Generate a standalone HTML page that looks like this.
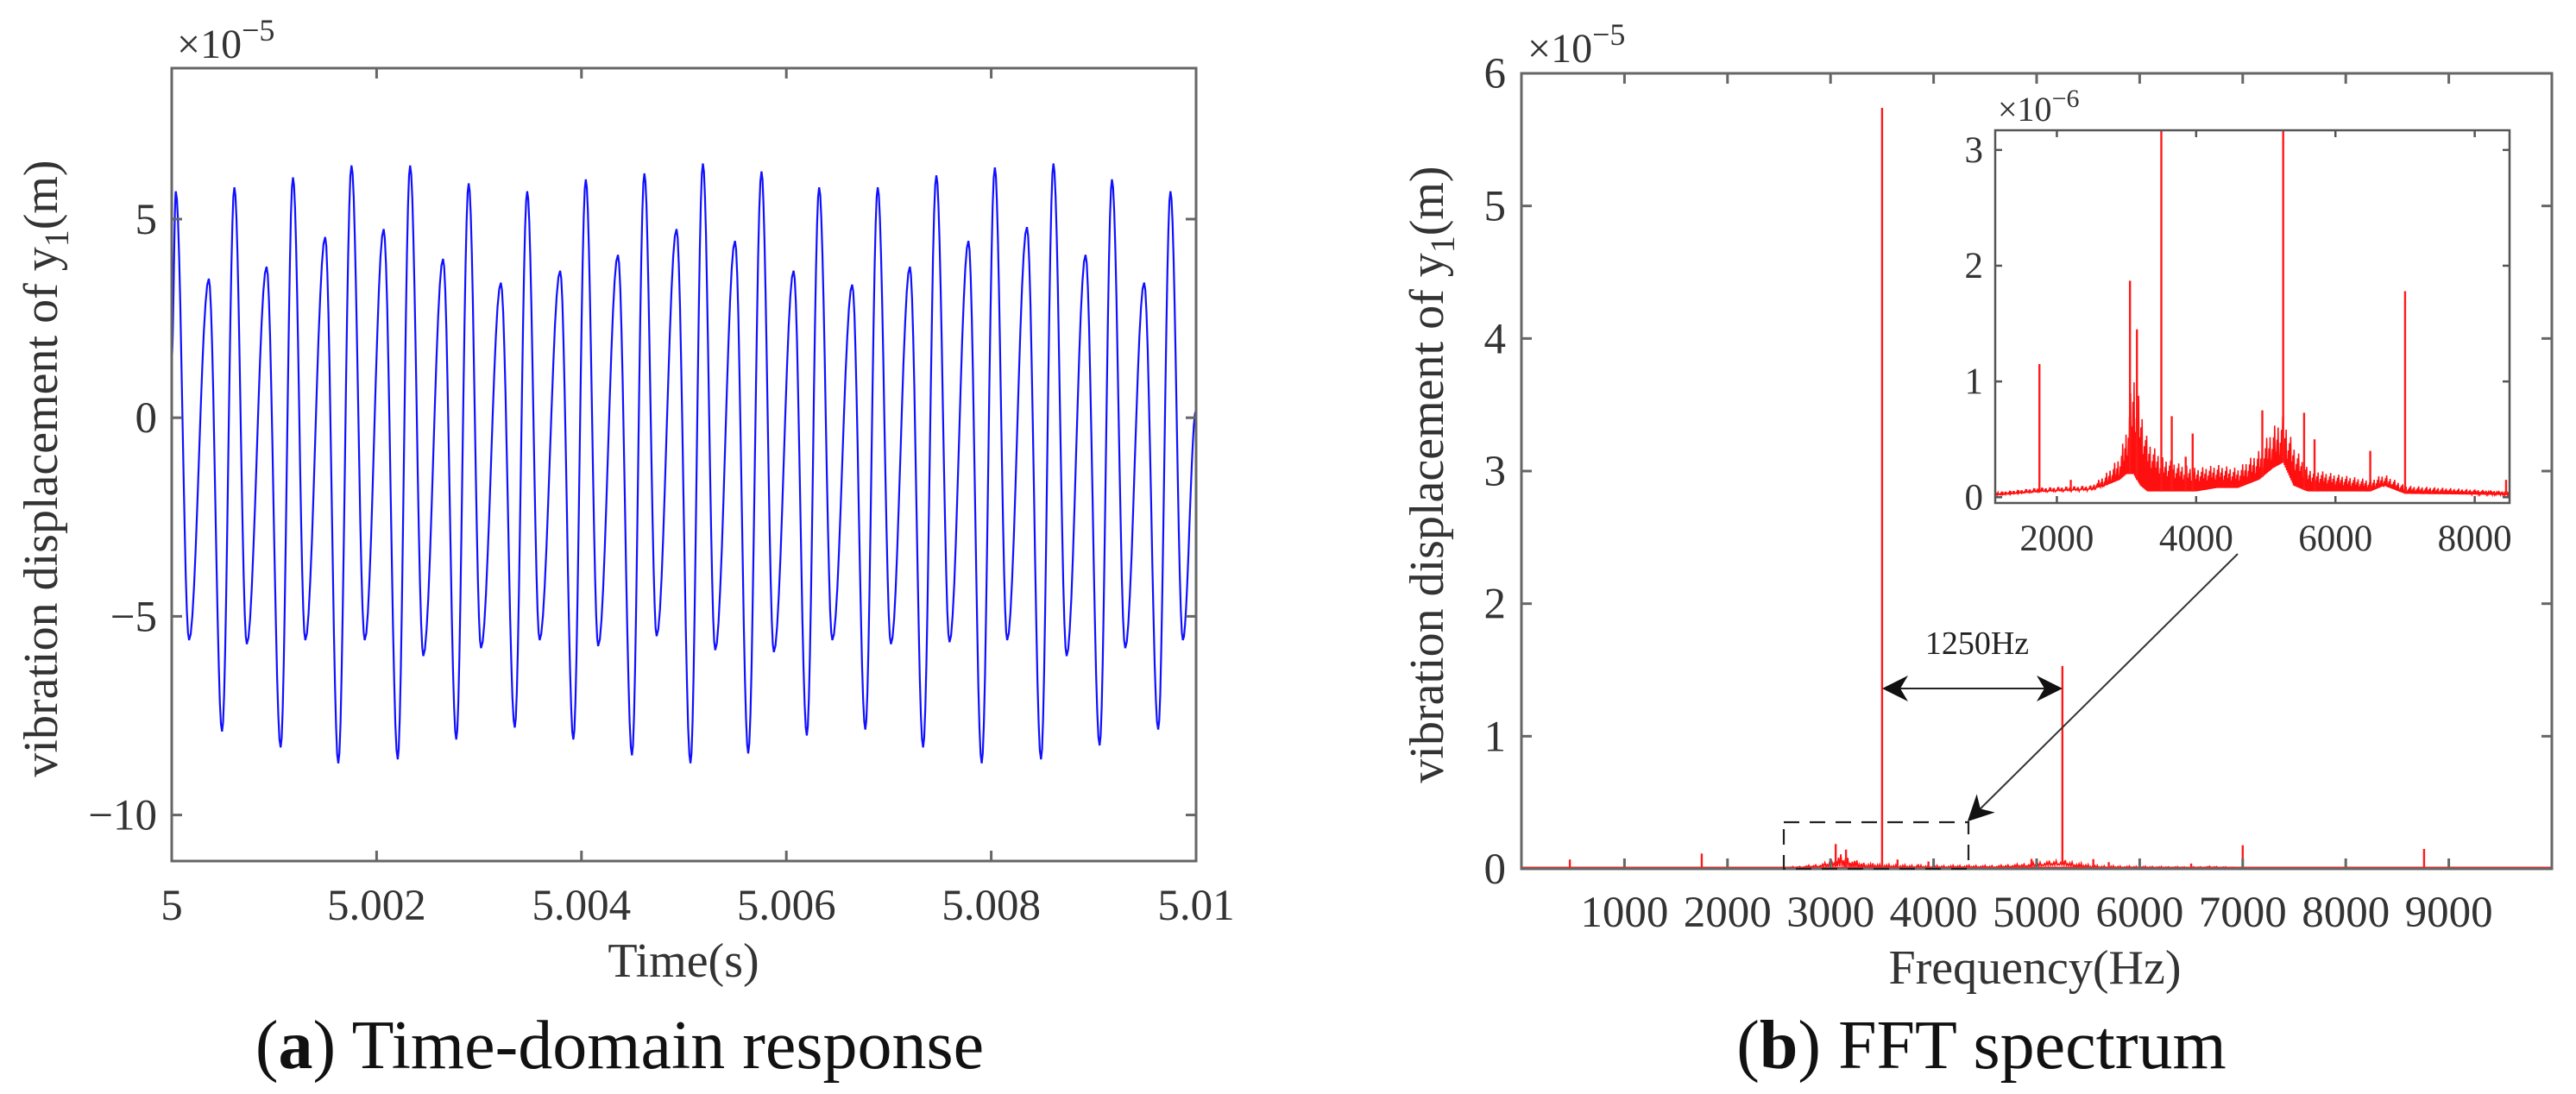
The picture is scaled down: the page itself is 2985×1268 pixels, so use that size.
<!DOCTYPE html>
<html><head><meta charset="utf-8"><style>
html,body{margin:0;padding:0;background:#fff;}
svg{display:block;font-family:"Liberation Serif",serif;}
</style></head><body>
<svg id="fig" width="2985" height="1268" viewBox="0 0 2985 1268" xmlns="http://www.w3.org/2000/svg">
<g id="left"></g>
<g id="right"></g>
<g id="inset"></g>
<text x="718" y="1238" font-size="80" text-anchor="middle" fill="#111">(<tspan font-weight="bold">a</tspan>) Time-domain response</text>
<text x="2296" y="1238" font-size="80" text-anchor="middle" fill="#111">(<tspan font-weight="bold">b</tspan>) FFT spectrum</text>
</svg>
<script>
// ---- time-domain data (ms offset from 5 s, value ×1e-5) ----
const tdTimes = [0,0.040,0.169,0.362,0.491,0.612,0.733,0.926,1.063,1.184,1.304,1.498,1.626,1.755,1.884,2.069,2.206,2.327,2.456,2.649,2.778,2.899,3.019,3.213,3.349,3.470,3.591,3.792,3.921,4.042,4.163,4.356,4.493,4.614,4.734,4.928,5.064,5.185,5.306,5.499,5.628,5.757,5.878,6.071,6.200,6.320,6.449,6.643,6.771,6.892,7.021,7.206,7.335,7.464,7.593,7.778,7.907,8.035,8.156,8.349,8.486,8.607,8.736,8.921,9.058,9.179,9.308,9.493,9.630,9.750,9.871,10.0];
const tdValues = [1.5,5.7,-5.6,3.5,-7.9,5.8,-5.7,3.8,-8.3,6.05,-5.6,4.55,-8.7,6.35,-5.6,4.75,-8.6,6.35,-6.0,4.0,-8.1,5.9,-5.8,3.4,-7.8,5.7,-5.6,3.7,-8.1,6.0,-5.75,4.1,-8.5,6.15,-5.5,4.75,-8.7,6.4,-5.85,4.45,-8.45,6.2,-5.9,3.7,-8.0,5.8,-5.6,3.35,-7.85,5.8,-5.7,3.8,-8.3,6.1,-5.65,4.45,-8.7,6.3,-5.6,4.8,-8.6,6.4,-6.0,4.1,-8.25,6.0,-5.8,3.4,-7.85,5.7,-5.6,0.2];
const tdXTicks = [5,5.002,5.004,5.006,5.008,5.01];
const tdXTickLabels = ["5","5.002","5.004","5.006","5.008","5.01"];
const tdYTicks = [5,0,-5,-10];
const tdYTickLabels = ["5","0","\u22125","\u221210"];

// ---- FFT data (Hz, amplitude ×1e-6) ----
const peakFreqs = [470,1750,2200,3050,3150,3500,3650,3850,3950,4950,5250,5550,5700,6500,7000,8450,8760];
const peakAmps  = [0.7,1.15,0.15,1.87,1.45,57.4,0.7,0.35,0.55,0.75,15.3,0.73,0.5,0.4,1.78,0.15,1.5];
const noiseFreqs = [0,1115,1750,2500,2700,2900,3000,3100,3200,3300,3500,3700,4000,4300,4600,4900,5100,5250,5400,5600,6000,6500,6700,7000,8500,10000];
const noiseLow   = [0.02,0.02,0.05,0.07,0.1,0.15,0.2,0.2,0.1,0.05,0.05,0.05,0.05,0.08,0.08,0.15,0.25,0.3,0.1,0.05,0.05,0.05,0.1,0.03,0.02,0.02];
const noiseHigh  = [0.04,0.04,0.08,0.1,0.2,0.35,0.6,1.1,0.8,0.5,0.35,0.3,0.25,0.28,0.25,0.4,0.6,0.7,0.45,0.25,0.2,0.15,0.2,0.1,0.05,0.05];
const fftXTicks = [1000,2000,3000,4000,5000,6000,7000,8000,9000];
const fftYTicks = [0,1,2,3,4,5,6];
const insetXTicks = [2000,4000,6000,8000];
const insetYTicks = [0,1,2,3];

const NS="http://www.w3.org/2000/svg";
function mk(parent,tag,attrs){const e=document.createElementNS(NS,tag);for(const k in attrs)e.setAttribute(k,attrs[k]);parent.appendChild(e);return e;}
function lin(d0,d1,r0,r1){return v=>r0+(v-d0)*(r1-r0)/(d1-d0);}
function interpEnv(f,arr){for(let i=0;i<noiseFreqs.length-1;i++){if(f>=noiseFreqs[i]&&f<=noiseFreqs[i+1]){const t=(f-noiseFreqs[i])/(noiseFreqs[i+1]-noiseFreqs[i]);return arr[i]+t*(arr[i+1]-arr[i]);}}return arr[arr.length-1];}

// ===== Left chart =====
(function(){
const g=document.getElementById('left');
const L=199,R=1386,T=79,B=998;
const x=lin(5,5.01,L,R), y=lin(-11.16,8.8,B,T);
let d="";
for(let i=0;i<tdTimes.length-1;i++){
  const t0=tdTimes[i],t1=tdTimes[i+1],v0=tdValues[i],v1=tdValues[i+1];
  for(let k=0;k<=12;k++){const s=k/12;const tt=t0+(t1-t0)*s;const vv=v0+(v1-v0)*(1-Math.cos(Math.PI*s))/2;
    d+=(d?"L":"M")+x(5+tt/1000).toFixed(1)+","+y(vv).toFixed(1);}
}
const p=mk(g,'path',{d:d,fill:'none',stroke:'#1010ff','stroke-width':2.2});


const box=mk(g,'rect',{x:L,y:T,width:R-L,height:B-T,fill:'none',stroke:'#666','stroke-width':3});


tdXTicks.forEach((v,i)=>{const xx=x(v);
  mk(g,'line',{x1:xx,x2:xx,y1:B,y2:B-12,stroke:'#666','stroke-width':3});
  mk(g,'line',{x1:xx,x2:xx,y1:T,y2:T+12,stroke:'#666','stroke-width':3});
  const t=mk(g,'text',{x:xx,y:1066,'font-size':51,'text-anchor':'middle',fill:'#333'});t.textContent=tdXTickLabels[i];
  
  
});
tdYTicks.forEach((v,i)=>{const yy=y(v);
  mk(g,'line',{x1:L,x2:L+12,y1:yy,y2:yy,stroke:'#666','stroke-width':3});
  mk(g,'line',{x1:R,x2:R-12,y1:yy,y2:yy,stroke:'#666','stroke-width':3});
  const t=mk(g,'text',{x:182,y:yy+17,'font-size':51,'text-anchor':'end',fill:'#333'});t.textContent=tdYTickLabels[i];
  
  
});
const xl=mk(g,'text',{x:792,y:1132,'font-size':56,'text-anchor':'middle',fill:'#333'});xl.textContent="Time(s)";


const yl=mk(g,'text',{x:0,y:0,'font-size':56,'text-anchor':'middle',fill:'#333',transform:'translate(66,543) rotate(-90)'});
yl.innerHTML='vibration displacement of y<tspan font-size="40" dy="13">1</tspan><tspan dy="-13">(m)</tspan>';


const ex=mk(g,'text',{x:205,y:67,'font-size':48,fill:'#333'});
ex.innerHTML='\u00d710<tspan font-size="36" dy="-20">\u22125</tspan>';


})();

function drawSpectrum(g,x,y,f0,f1,scale,clipTop){
  let d="";const step=(f1-f0)/900;let k=0;
  for(let f=f0;f<=f1;f+=step,k++){
    const v=(k%2?interpEnv(f,noiseHigh)*(0.55+0.45*((k%7)/6)):interpEnv(f,noiseLow))*scale;
    d+=(d?"L":"M")+x(f).toFixed(1)+","+Math.max(clipTop,y(v)).toFixed(1);
  }
  const n=mk(g,'path',{d:d,fill:'none',stroke:'#ff1010','stroke-width':1.6});
  
  
  peakFreqs.forEach((f,i)=>{ if(f<f0||f>f1) return;
    const l=mk(g,'line',{x1:x(f),x2:x(f),y1:y(interpEnv(f,noiseLow)*scale),y2:Math.max(clipTop,y(peakAmps[i]*scale)),stroke:'#ff1a1a','stroke-width':2.4});
    
    
  });
}
(function(){
const g=document.getElementById('right');
const L=1763,R=2957,T=85,B=1007;
const x=lin(0,10000,L,R), y=lin(0,6,B,T);
drawSpectrum(g,x,y,0,10000,0.1,T);
const bl=mk(g,'line',{x1:L,x2:R,y1:B-1,y2:B-1,stroke:'#ff2020','stroke-width':3});


const box=mk(g,'rect',{x:L,y:T,width:R-L,height:B-T,fill:'none',stroke:'#666','stroke-width':3});


fftXTicks.forEach(v=>{const xx=x(v);
  mk(g,'line',{x1:xx,x2:xx,y1:B,y2:B-12,stroke:'#666','stroke-width':3});
  mk(g,'line',{x1:xx,x2:xx,y1:T,y2:T+12,stroke:'#666','stroke-width':3});
  const t=mk(g,'text',{x:xx,y:1074,'font-size':51,'text-anchor':'middle',fill:'#333'});t.textContent=String(v);
  
  
});
fftYTicks.forEach(v=>{const yy=y(v);
  mk(g,'line',{x1:L,x2:L+12,y1:yy,y2:yy,stroke:'#666','stroke-width':3});
  mk(g,'line',{x1:R,x2:R-12,y1:yy,y2:yy,stroke:'#666','stroke-width':3});
  const t=mk(g,'text',{x:1745,y:yy+17,'font-size':51,'text-anchor':'end',fill:'#333'});t.textContent=String(v);
  
  
});
const xl=mk(g,'text',{x:2358,y:1140,'font-size':56,'text-anchor':'middle',fill:'#333'});xl.textContent="Frequency(Hz)";


const yl=mk(g,'text',{x:0,y:0,'font-size':56,'text-anchor':'middle',fill:'#333',transform:'translate(1672,550) rotate(-90)'});
yl.innerHTML='vibration displacement of y<tspan font-size="40" dy="13">1</tspan><tspan dy="-13">(m)</tspan>';


const ex=mk(g,'text',{x:1770,y:72,'font-size':48,fill:'#333'});
ex.innerHTML='\u00d710<tspan font-size="36" dy="-20">\u22125</tspan>';


const db=mk(g,'rect',{x:2067,y:953,width:214,height:54,fill:'none',stroke:'#222','stroke-width':2.2,'stroke-dasharray':'18,12'});


const defs=mk(g,'defs',{});
const m=mk(defs,'marker',{id:'ah',refX:9,refY:5,orient:'auto-start-reverse',markerUnits:'userSpaceOnUse',viewBox:'0 0 10 10'});
m.setAttribute('markerWidth',36);m.setAttribute('markerHeight',30);
mk(m,'path',{d:'M0,0 L10,5 L0,10 L3,5 Z',fill:'#111'});
const a1=mk(g,'line',{x1:2184,y1:798,x2:2387,y2:798,stroke:'#222','stroke-width':2,'marker-start':'url(#ah)','marker-end':'url(#ah)'});


const tx=mk(g,'text',{x:2291,y:758,'font-size':38,'text-anchor':'middle',fill:'#222'});tx.textContent="1250Hz";


const a2=mk(g,'line',{x1:2593,y1:642,x2:2282,y2:950,stroke:'#333','stroke-width':2,'marker-end':'url(#ah)'});


})();

(function(){
const g=document.getElementById('inset');
const L=2312,R=2908,T=151,B=583;
const x=lin(1115,8500,L,R), y=lin(-0.05,3.17,B,T);
mk(g,'rect',{x:L,y:T,width:R-L,height:B-T,fill:'#fff'});
drawSpectrum(g,x,y,1115,8500,1,T);
const box=mk(g,'rect',{x:L,y:T,width:R-L,height:B-T,fill:'none',stroke:'#555','stroke-width':2.5});


insetXTicks.forEach(v=>{const xx=x(v);
  mk(g,'line',{x1:xx,x2:xx,y1:B,y2:B-8,stroke:'#555','stroke-width':2.5});
  mk(g,'line',{x1:xx,x2:xx,y1:T,y2:T+8,stroke:'#555','stroke-width':2.5});
  const t=mk(g,'text',{x:xx,y:638,'font-size':43,'text-anchor':'middle',fill:'#333'});t.textContent=String(v);
  
  
});
insetYTicks.forEach(v=>{const yy=y(v);
  mk(g,'line',{x1:L,x2:L+8,y1:yy,y2:yy,stroke:'#555','stroke-width':2.5});
  mk(g,'line',{x1:R,x2:R-8,y1:yy,y2:yy,stroke:'#555','stroke-width':2.5});
  const t=mk(g,'text',{x:2298,y:yy+14,'font-size':43,'text-anchor':'end',fill:'#333'});t.textContent=String(v);
  
  
});
const ex=mk(g,'text',{x:2315,y:140,'font-size':40,fill:'#333'});
ex.innerHTML='\u00d710<tspan font-size="30" dy="-16">\u22126</tspan>';


})();
</script>
</body></html>
